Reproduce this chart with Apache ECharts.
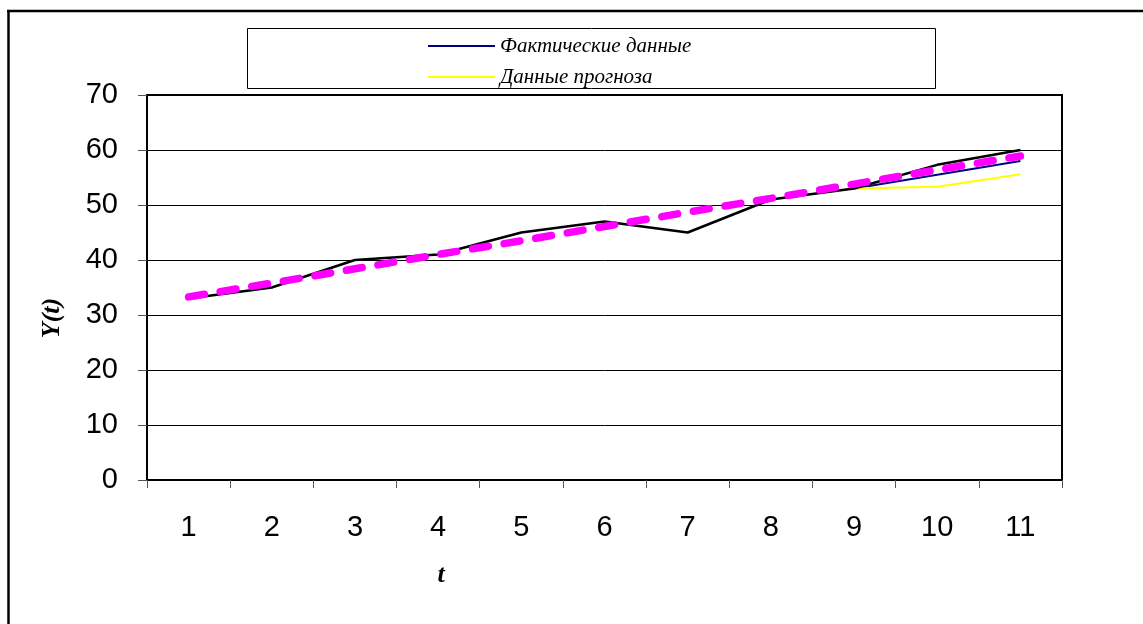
<!DOCTYPE html>
<html>
<head>
<meta charset="utf-8">
<script src="https://cdn.jsdelivr.net/npm/echarts@6/dist/echarts.min.js"></script>
<style>
  html, body { margin: 0; padding: 0; background: #fff; }
  #chart { width: 1143px; height: 624px; }
</style>
</head>
<body>
<div id="chart"></div>
<script>
// Periods t
const periods = ['1', '2', '3', '4', '5', '6', '7', '8', '9', '10', '11'];
// Observed series Y(t)
const observed = [33, 35, 40, 41, 45, 47, 45, 51, 53, 57.3, 60];
// Fitted values on the last periods
const actualFit = [null, null, null, null, null, null, null, null, 53, 55.5, 58];
// Forecast values
const forecast = [null, null, null, null, null, null, null, null, 53, 53.3, 55.6];
// Linear trend
const trend = [33.3, 35.8, 38.4, 41.0, 43.5, 46.1, 48.7, 51.2, 53.8, 56.4, 58.9];
// Value axis ticks
const yMin = 0, yMax = 70, yStep = 10;

const chart = echarts.init(document.getElementById('chart'), null, { renderer: 'canvas' });

chart.setOption({
  animation: false,
  backgroundColor: '#fff',
  grid: {
    left: 147, right: 81, top: 95, bottom: 144,
    show: true, borderColor: '#000', borderWidth: 2, backgroundColor: 'transparent'
  },
  legend: {
    data: ['Фактические данные', 'Данные прогноза'],
    orient: 'vertical',
    left: 423, top: 30,
    icon: 'rect',
    itemWidth: 67, itemHeight: 2,
    itemGap: 9,
    textStyle: {
      fontFamily: '"Liberation Serif", "Times New Roman", serif',
      fontStyle: 'italic', fontSize: 21, color: '#000', lineHeight: 22
    }
  },
  xAxis: {
    type: 'category',
    data: periods,
    boundaryGap: true,
    axisLine: { lineStyle: { color: '#000', width: 2 } },
    axisTick: { show: true, length: 8, lineStyle: { color: '#555', width: 1 } },
    axisLabel: {
      margin: 33, color: '#000', fontSize: 29,
      fontFamily: '"Liberation Sans", Arial, sans-serif'
    },
    splitLine: { show: false }
  },
  yAxis: {
    type: 'value',
    min: yMin, max: yMax, interval: yStep,
    axisLine: { show: true, lineStyle: { color: '#000', width: 2 } },
    axisTick: { show: true, length: 9, lineStyle: { color: '#555', width: 1 } },
    axisLabel: {
      margin: 29, color: '#000', fontSize: 29,
      fontFamily: '"Liberation Sans", Arial, sans-serif'
    },
    splitLine: { show: true, lineStyle: { color: '#000', width: 1 } }
  },
  graphic: [
    // page frame
    { type: 'line', shape: { x1: 7, y1: 11, x2: 1143, y2: 11 }, style: { stroke: '#000', lineWidth: 2.5 }, z: 0 },
    { type: 'line', shape: { x1: 8.5, y1: 10, x2: 8.5, y2: 624 }, style: { stroke: '#000', lineWidth: 2.5 }, z: 0 },
    // legend box
    { type: 'rect', shape: { x: 247.5, y: 28.5, width: 688, height: 60 }, style: { fill: '#fff', stroke: '#000', lineWidth: 1 }, z: 0 },
    // axis titles
    {
      type: 'text', x: 441, y: 575,
      style: {
        text: 't', fill: '#000', align: 'center', verticalAlign: 'middle',
        font: 'italic bold 26px "Liberation Serif", "Times New Roman", serif'
      }
    },
    {
      type: 'text', x: 52, y: 318, rotation: Math.PI / 2,
      style: {
        text: 'Y(t)', fill: '#000', align: 'center', verticalAlign: 'middle',
        font: 'italic bold 26px "Liberation Serif", "Times New Roman", serif'
      }
    }
  ],
  series: [
    {
      name: 'Фактические данные', type: 'line', data: actualFit,
      symbol: 'none', connectNulls: false,
      lineStyle: { color: '#000080', width: 2 }, itemStyle: { color: '#000080' }
    },
    {
      name: 'Данные прогноза', type: 'line', data: forecast,
      symbol: 'none', connectNulls: false,
      lineStyle: { color: '#FFFF00', width: 2 }, itemStyle: { color: '#FFFF00' }
    },
    {
      name: 'Y(t)', type: 'line', data: observed,
      symbol: 'none',
      lineStyle: { color: '#000', width: 2.5 }, itemStyle: { color: '#000' }
    },
    {
      name: 'Тренд', type: 'line', data: trend,
      symbol: 'none',
      lineStyle: { color: '#FF00FF', width: 7.5, type: [16, 16], cap: 'round' },
      itemStyle: { color: '#FF00FF' }
    }
  ]
});
</script>
</body>
</html>
